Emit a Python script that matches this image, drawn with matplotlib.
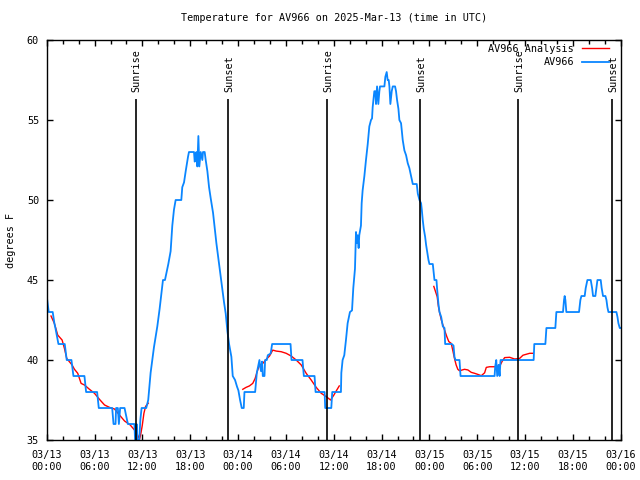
import numpy as np
import matplotlib
matplotlib.use('Agg')
import matplotlib.pyplot as plt

# hours since 2025-03-13 00:00 UTC, temperature in degrees F
av966 = [
    (0.0, 44), (0.25, 43), (0.75, 43), (0.96, 42.3), (1.09, 42.0), (1.2, 41.7),
    (1.34, 41.3), (1.47, 41), (2.26, 41), (2.51, 40), (3.1, 40), (3.35, 39),
    (4.73, 39), (4.94, 38), (6.32, 38), (6.53, 37), (8.21, 37), (8.38, 36),
    (8.63, 36), (8.7, 37), (8.92, 37), (9.05, 36), (9.21, 37), (9.76, 37),
    (10.18, 36), (11.0, 36), (11.08, 35), (11.22, 35), (11.27, 36), (11.35, 35),
    (11.6, 35), (11.75, 36.3), (11.9, 37), (12.48, 37), (12.73, 37.5), (13.03, 39.2),
    (13.45, 40.8), (13.87, 42.1), (14.16, 43.2), (14.41, 44.3), (14.58, 45),
    (14.83, 45), (15.0, 45.4), (15.25, 46), (15.54, 46.8), (15.75, 48.4),
    (15.96, 49.4), (16.17, 50), (16.88, 50), (17.0, 50.8), (17.22, 51.1),
    (17.43, 51.8), (17.72, 52.7), (17.84, 53), (18.47, 53), (18.56, 52.4),
    (18.68, 52.6), (18.77, 53), (18.89, 52.1), (19.02, 54), (19.14, 52.1),
    (19.31, 53), (19.52, 52.5), (19.6, 53), (19.81, 53), (19.94, 52.5),
    (20.15, 51.8), (20.36, 50.8), (20.57, 50.1), (20.86, 49.2), (21.11, 48.1),
    (21.28, 47.3), (21.49, 46.5), (21.74, 45.5), (22.03, 44.4), (22.24, 43.6),
    (22.45, 42.9), (22.66, 41.8), (22.87, 41.0), (23.16, 40.2), (23.33, 39.0),
    (23.62, 38.75), (23.87, 38.33), (24.04, 38.1), (24.25, 37.5), (24.46, 37),
    (24.71, 37), (24.8, 38), (26.14, 38), (26.35, 39.2), (26.68, 40), (26.76, 39.6),
    (26.89, 39.3), (27.01, 39.9), (27.1, 39), (27.31, 39), (27.39, 40), (27.6, 40),
    (27.73, 40.3), (28.07, 40.4), (28.15, 40.6), (28.27, 41), (30.58, 41),
    (30.7, 40), (32.08, 40), (32.25, 39), (33.59, 39), (33.72, 38), (34.85, 38),
    (34.93, 37), (35.69, 37), (35.81, 38), (36.9, 38), (36.95, 39.2), (37.11, 40.0),
    (37.32, 40.3), (37.53, 41.25), (37.74, 42.3), (38.03, 43.0), (38.29, 43.1),
    (38.45, 44.5), (38.66, 45.7), (38.79, 48.0), (38.87, 47.3), (39.0, 47.8),
    (39.12, 47.0), (39.2, 47.8), (39.41, 48.4), (39.5, 49.8), (39.62, 50.6),
    (39.84, 51.5), (40.04, 52.5), (40.26, 53.5), (40.46, 54.6), (40.67, 55.0),
    (40.8, 55.1), (40.88, 55.8), (41.09, 56.8), (41.22, 56.8), (41.3, 56.0),
    (41.43, 57.1), (41.59, 56.0), (41.72, 56.8), (41.8, 57.1), (42.35, 57.1),
    (42.47, 57.7), (42.64, 58.0), (42.76, 57.5), (42.89, 57.5), (42.98, 57.1),
    (43.1, 56.0), (43.27, 56.8), (43.4, 57.1), (43.69, 57.1), (43.81, 56.8),
    (43.94, 56.25), (44.11, 55.7), (44.23, 55.0), (44.44, 54.8), (44.65, 53.75),
    (44.86, 53.1), (45.07, 52.8), (45.28, 52.3), (45.48, 52.0), (45.69, 51.5),
    (45.91, 51.0), (46.41, 51.0), (46.54, 50.4), (46.75, 50.0), (46.95, 49.8),
    (47.04, 49.4), (47.16, 48.75), (47.29, 48.2), (47.46, 47.7), (47.58, 47.2),
    (47.71, 46.8), (47.88, 46.25), (48.0, 46), (48.42, 46), (48.63, 45),
    (48.88, 45), (48.97, 44.4), (49.13, 43.5), (49.26, 43.0), (49.47, 42.7),
    (49.68, 42.1), (49.89, 42), (49.97, 41), (50.81, 41), (51.02, 40.9),
    (51.14, 40.2), (51.27, 40), (51.77, 40), (51.9, 39), (56.17, 39),
    (56.25, 39.6), (56.38, 40), (56.5, 39), (56.67, 39.7), (56.8, 39),
    (56.92, 40), (61.07, 40), (61.15, 41), (62.54, 41), (62.67, 42), (63.79, 42),
    (63.92, 43), (64.75, 43), (64.88, 43.75), (64.96, 44), (65.05, 43.75),
    (65.17, 43), (66.76, 43), (66.93, 43.75), (67.06, 44), (67.47, 44),
    (67.6, 44.5), (67.81, 45), (68.23, 45), (68.4, 44.5), (68.52, 44),
    (68.81, 44), (68.94, 44.5), (69.07, 45), (69.48, 45), (69.6, 44.5),
    (69.77, 44), (70.07, 44), (70.2, 43.75), (70.32, 43.3), (70.45, 43),
    (71.45, 43), (71.58, 42.7), (71.7, 42.3), (71.87, 42), (72.0, 42),
]

# smoothed analysis, three night-time pieces
analysis_night1 = [
    (0.54, 42.75), (0.96, 42.29), (1.38, 41.56), (1.93, 41.25), (2.22, 40.73),
    (2.51, 40.1), (3.18, 39.69), (3.48, 39.42), (3.89, 39.17), (4.31, 38.54),
    (4.73, 38.44), (5.36, 38.17), (5.99, 37.92), (6.62, 37.54), (7.25, 37.19),
    (7.87, 37.04), (8.5, 36.94), (9.13, 36.56), (9.76, 36.19), (10.47, 35.94),
    (11.02, 35.62), (11.31, 35.42), (11.64, 35.05), (11.77, 35.3), (11.98, 35.9),
    (12.19, 36.67), (12.4, 37.1), (12.73, 37.3),
]
analysis_night2 = [
    (24.59, 38.17), (25.0, 38.29), (25.42, 38.38), (25.84, 38.54), (26.14, 38.85),
    (26.39, 39.27), (26.68, 39.69), (27.1, 39.79), (27.52, 40.04), (27.94, 40.25),
    (28.35, 40.62), (28.77, 40.56), (29.4, 40.52), (30.03, 40.42), (30.66, 40.25),
    (31.29, 40.0), (31.92, 39.69), (32.54, 39.17), (33.17, 38.75), (33.8, 38.29),
    (34.43, 37.92), (35.06, 37.71), (35.6, 37.5), (36.0, 37.8), (36.35, 38.1),
    (36.69, 38.38),
]
analysis_night3 = [
    (48.55, 44.6), (48.97, 43.96), (49.13, 43.33), (49.26, 43.0), (49.47, 42.54),
    (49.68, 42.19), (49.89, 41.88), (50.18, 41.46), (50.43, 41.15), (50.73, 41.04),
    (50.93, 40.6), (51.14, 40.1), (51.35, 39.69), (51.56, 39.42), (51.77, 39.33),
    (52.4, 39.42), (52.82, 39.38), (53.24, 39.23), (53.66, 39.17), (54.08, 39.1),
    (54.5, 39.02), (54.92, 39.2), (55.13, 39.54), (55.55, 39.58), (56.17, 39.58),
    (56.8, 39.6), (57.1, 39.9), (57.43, 40.15), (58.06, 40.17), (58.69, 40.06),
    (59.31, 40.1), (59.73, 40.3), (60.57, 40.42), (61.0, 40.42),
]

sunrise_hours = [11.15, 35.15, 59.12]
sunset_hours = [22.78, 46.84, 70.92]

font = {'family': 'DejaVu Sans Mono', 'size': 7.3}
blue = '#0a86ff'

fig = plt.figure(figsize=(6.4, 4.8), dpi=100)
ax = fig.add_axes([0.073, 0.0833, 0.897, 0.8333])

# analysis first, raw series on top (gnuplot draw order)
first = True
for seg in (analysis_night1, analysis_night2, analysis_night3):
    h, t = zip(*seg)
    ax.plot(h, t, color='red', lw=1.0, label='AV966 Analysis' if first else None)
    first = False

h, t = zip(*av966)
ax.plot(h, t, color=blue, lw=1.3, label='AV966')

# sunrise / sunset markers
for x in sunrise_hours:
    ax.vlines(x, 35, 56.3, color='black', lw=1.2)
    ax.text(x + 0.15, 56.75, 'Sunrise', rotation=90, ha='center', va='bottom', **font)
for x in sunset_hours:
    ax.vlines(x, 35, 56.3, color='black', lw=1.2)
    ax.text(x + 0.15, 56.75, 'Sunset', rotation=90, ha='center', va='bottom', **font)

ax.set_xlim(0, 72)
ax.set_ylim(35, 60)

major = list(range(0, 73, 6))
ax.set_xticks(major)
ax.set_xticklabels([f"03/{13 + hh // 24:02d}\n{hh % 24:02d}:00" for hh in major],
                   linespacing=1.25, **font)
ax.set_xticks(list(range(0, 73, 2)), minor=True)
ax.set_yticks(list(range(35, 61, 5)))
ax.set_yticklabels([str(v) for v in range(35, 61, 5)], **font)

ax.tick_params(axis='both', which='both', direction='in', top=True, right=True,
               width=1, color='black')
ax.tick_params(axis='x', which='major', length=4, pad=7.5)
ax.tick_params(axis='x', which='minor', length=3)
ax.tick_params(axis='y', which='major', length=4.5, pad=5.5)

for sp in ax.spines.values():
    sp.set_linewidth(1)
    sp.set_color('black')

ax.set_ylabel('degrees F', labelpad=8, **font)
ax.set_title('Temperature for AV966 on 2025-Mar-13 (time in UTC)', pad=14, **font)

ax.legend(loc='upper right', bbox_to_anchor=(0.9796, 0.99), frameon=False,
          markerfirst=False, handlelength=2.7, handletextpad=0.75,
          borderpad=0, borderaxespad=0, labelspacing=0.3,
          prop={'family': 'DejaVu Sans Mono', 'size': 7.3})

fig.savefig('out.png', dpi=100, facecolor='white')
